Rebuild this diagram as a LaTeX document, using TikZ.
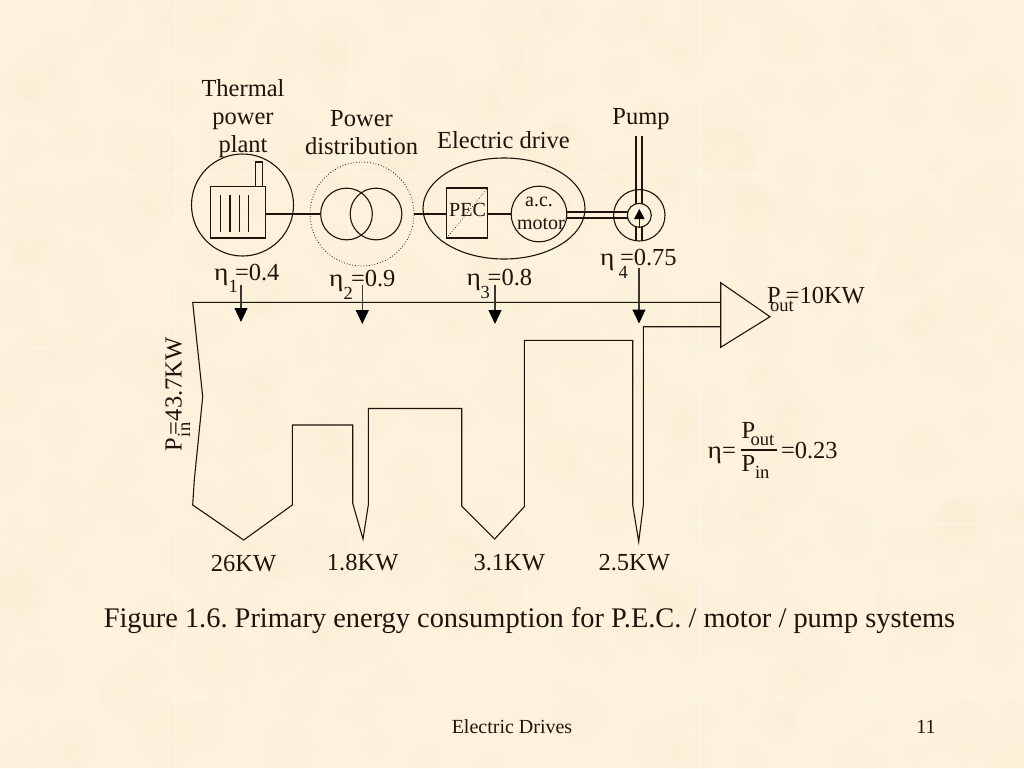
\documentclass[tikz,border=0pt]{standalone}
\usepackage{fontspec}
\usepackage{graphicx}
\setmainfont{Liberation Serif}
\usetikzlibrary{arrows.meta}
\definecolor{paper}{HTML}{FDF3DD}
\definecolor{blotch}{HTML}{F8E6C2}
\definecolor{ink}{HTML}{1E140A}
\definecolor{shaft}{HTML}{3A3632}
\newcommand{\lowered}[2]{\makebox[0pt][l]{\raisebox{-#1}{\fontsize{18.5}{18.5}\selectfont #2}}}
\newcommand{\etaglyph}{\scalebox{1.12}[1]{η}}
\tikzset{
  lab/.style={font=\fontsize{24.5}{24.5}\selectfont,anchor=base,inner sep=0pt,outer sep=0pt,text=ink},
  labw/.style={lab,anchor=base west},
  small/.style={font=\fontsize{20}{20}\selectfont,anchor=base,inner sep=0pt,outer sep=0pt,text=ink},
  foot/.style={font=\fontsize{20}{20}\selectfont,anchor=base,inner sep=0pt,outer sep=0pt,text=ink},
  capt/.style={font=\fontsize{28.4}{28.4}\selectfont\frenchspacing,anchor=base,inner sep=0pt,outer sep=0pt,text=ink},
  ln/.style={draw=ink,line width=1.1pt},
  ring/.style={ln,circle,inner sep=0pt,outer sep=0pt},
  boxed/.style={ln,rectangle,inner sep=0pt,outer sep=0pt},
  dropline/.style={draw=shaft,line width=1.2pt,-{Triangle[length=14pt,width=13pt,color=black]}},
  flow/.style={ln,line join=miter}
}
\begin{document}
\begin{tikzpicture}[x=1pt,y=-1pt]
\useasboundingbox (0,0) rectangle (1024,768);
\fill[paper] (0,0) rectangle (1024,768);
\begin{scope}
\clip (0,0) rectangle (1024,768);
\pgfmathsetseed{11}
\foreach \i in {1,...,500}{
  \pgfmathsetmacro{\bx}{rnd*1024}
  \pgfmathsetmacro{\by}{rnd*768}
  \pgfmathsetmacro{\br}{6+rnd*22}
  \fill[blotch,opacity=0.06] (\bx,\by) circle[radius=\br];
}
\foreach \sx in {175,349,525,700,874}{\draw[white,opacity=.4,line width=1pt] (\sx,0) -- (\sx,768);}
\foreach \sy in {174,348,523,698}{\draw[white,opacity=.4,line width=1pt] (0,\sy) -- (1024,\sy);}
\end{scope}

% Titles
\node[lab] (t1a) at (243,96.7) {Thermal};
\node[lab] (t1b) at (243,124.3) {power};
\node[lab] (t1c) at (243,152.5) {plant};
\node[lab] (t2a) at (361.5,126.7) {Power};
\node[lab] (t2b) at (361.5,154) {distribution};
\node[lab] (t3) at (503.5,148.3) {Electric drive};
\node[lab] (t4) at (641,124) {Pump};

% Thermal plant
\node[ring,minimum size=102pt] (plant) at (242.5,205) {};
\node[boxed,minimum width=54.3pt,minimum height=51.3pt] (factory) at (237.9,212.3) {};
\node[boxed,minimum width=6.6pt,minimum height=24.7pt] (chimney) at (259,174.3) {};
\foreach \lx in {220.7,230,239.3,248.7}{
  \draw[ln] (\lx,195) -- (\lx,232);
}

% Distribution
\node[draw=ink,circle,dotted,line width=.8pt,minimum size=104pt,inner sep=0pt,outer sep=0pt] (dist) at (362,214) {};
\node[ring,minimum size=51.7pt] (trl) at (346.5,214) {};
\node[ring,minimum size=51.7pt] (trr) at (376,214) {};
\draw[ln] (factory.east |- trl.west) -- (trl.west);

% Electric drive
\draw[ln] (504,208.5) ellipse[x radius=81,y radius=50.5];
\node[boxed,minimum width=41pt,minimum height=50pt] (pec) at (467.2,213) {};
\draw[ink,dotted,line width=.7pt] (pec.south west) -- (pec.north east);
\node[small] (pectext) at (467.5,216) {PEC};
\node[ring,minimum size=55.7pt] (motor) at (539,214) {};
\node[small] (ac) at (539,206.5) {a.c.};
\node[small] (motortext) at (541,229) {motor};
\draw[ln] (dist.east) -- (pec.west |- dist.east);
\draw[ln] (pec.east |- motor.west) -- (motor.west);

% Pump
\node[ring,minimum size=51.4pt] (pumpo) at (639.3,215.3) {};
\node[ring,minimum size=24pt] (pumpi) at (639.3,215.3) {};
\draw[fill=black,draw=none] (639.3,209) -- (644.6,219) -- (634,219) -- cycle;
\coordinate (sl) at (636,136);
\coordinate (sr) at (642,136);
\draw[ln] (sl) -- (636,203.8);
\draw[ln] (sr) -- (642,203.8);
\draw[ln] (636,226.8) -- (636,240.6);
\draw[ln] (642,226.8) -- (642,240.6);
\draw[ln] (639.3,219) -- (pumpi.south);
\draw[ln] (566.6,212) -- (627.8,212);
\draw[ln] (566.6,218) -- (627.8,218);

% Efficiency labels
\node[labw] (e1) at (214,280.7) {\makebox[14.5pt][l]{\etaglyph}\lowered{12pt}{1}\hspace{6.5pt}=0.4};
\node[labw] (e2) at (329,286) {\makebox[14.5pt][l]{\etaglyph}\lowered{13pt}{2}\hspace{7.5pt}=0.9};
\node[labw] (e3) at (466.7,285) {\makebox[14pt][l]{\etaglyph}\lowered{13pt}{3}\hspace{7pt}=0.8};
\node[labw] (e4) at (600,265.7) {\makebox[18.5pt][l]{\etaglyph}\lowered{12.5pt}{4}\hspace{1.5pt}=0.75};

% Sankey
\coordinate (a1) at (241,285);    \coordinate (a1e) at (241,322);
\coordinate (a2) at (362.3,285);  \coordinate (a2e) at (362.3,324);
\coordinate (a3) at (495,285);    \coordinate (a3e) at (495,324);
\coordinate (a4) at (639,268);    \coordinate (a4e) at (639,323.5);

\coordinate (ti) at (720.7,282.7);
\coordinate (tt) at (770,316.7);
\coordinate (tb) at (720.7,347.3);
\draw[flow] (ti) -- (tt) -- (tb) -- cycle;

\draw[flow] (720.7,302.3) -- (192.7,302.3) -- (202.7,396.7) -- (194.3,480) -- (192.7,505)
  -- (243.7,540) -- (292.3,505) -- (292.3,425) -- (352.7,425) -- (352.7,503.3)
  -- (363,539) -- (368.3,505) -- (368.3,408.5) -- (461.7,408.5) -- (461.7,506)
  -- (494.7,539) -- (524.3,506.7) -- (524.3,340.3) -- (632.7,340.3) -- (632.7,505)
  -- (638.7,541.7) -- (643.3,505) -- (643.3,326.7) -- (720.7,326.7);

\draw[dropline] (a1) -- (a1e);
\draw[dropline] (a2) -- (a2e);
\draw[dropline] (a3) -- (a3e);
\draw[dropline] (a4) -- (a4e);

% Output / input
\node[labw] (pout) at (767,303.3) {\makebox[3pt][l]{P}\lowered{8pt}{out}\hspace{15.7pt}=10KW};
\node[labw,rotate=90] (pin) at (181.7,451) {\makebox[14pt][l]{P}\lowered{8.5pt}{in}\hspace{2pt}=43.7KW};

% Formula
\node[labw] (eta) at (707.7,458.3) {\etaglyph=};
\node[labw] (fnum) at (741.7,438.3) {\makebox[9pt][l]{P}\lowered{7.5pt}{out}};
\node[labw] (fden) at (741.7,471.7) {\makebox[13.3pt][l]{P}\lowered{6.6pt}{in}};
\node[labw] (fval) at (781,458.3) {=0.23};
\coordinate (fb1) at (740.7,450);
\coordinate (fb2) at (777.3,450);
\draw[ln] (fb1) -- (fb2);

% Losses
\node[lab] (l1) at (243.5,571.7) {26KW};
\node[lab] (l2) at (362.7,570) {1.8KW};
\node[lab] (l3) at (509.3,570) {3.1KW};
\node[lab] (l4) at (634.3,570) {2.5KW};

% Caption and footer
\node[capt] (cap) at (529.5,627.5) {Figure 1.6. Primary energy consumption for P.E.C. / motor / pump systems};
\node[foot] (fl) at (512,733) {Electric Drives};
\node[foot] (fr) at (926,733) {11};
\end{tikzpicture}
\end{document}
